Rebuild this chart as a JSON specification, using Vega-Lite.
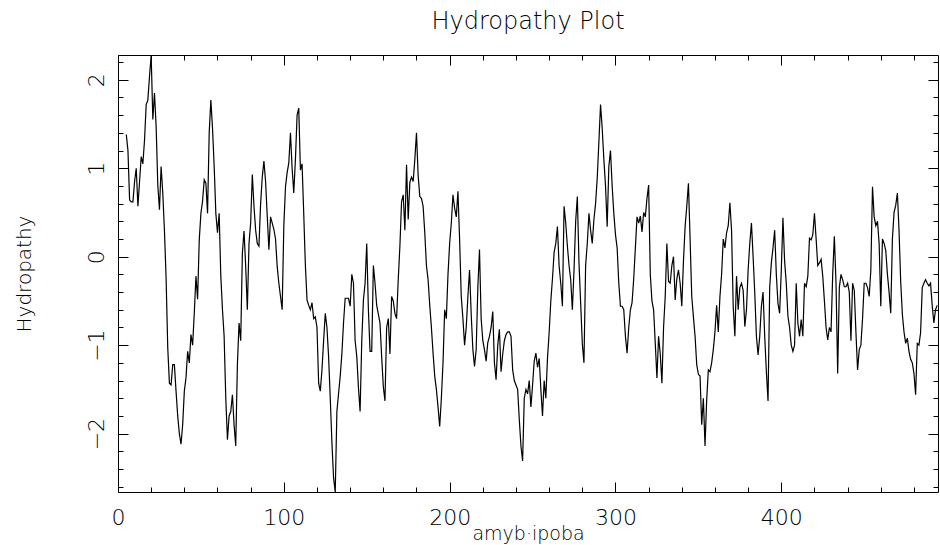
{
 "$schema": "https://vega.github.io/schema/vega-lite/v6.json",
 "width": 820, "height": 437,
 "autosize": {"type": "none"},
 "padding": {"left": 118, "top": 55, "right": 2, "bottom": 53},
 "background": "white",
 "title": {"text": "Hydropathy Plot", "font": "DejaVu Sans", "fontSize": 24, "fontWeight": 200, "color": "black", "offset": 21},
 "config": {"view": {"stroke": null}, "axis": {"domainColor": "black", "tickColor": "black", "labelColor": "black", "titleColor": "black", "labelFont": "DejaVu Sans", "titleFont": "DejaVu Sans", "labelFontWeight": 200, "titleFontWeight": 200, "grid": false, "domainWidth": 1, "tickWidth": 1}},
 "data": {"values": [
{"r":5,"h":1.38},{"r":6,"h":1.2},{"r":7,"h":0.64},{"r":8,"h":0.62},{"r":9,"h":0.62},{"r":10,"h":0.85},{"r":11,"h":1.0},{"r":12,"h":0.57},{"r":13,"h":0.85},{"r":14,"h":1.13},{"r":15,"h":1.05},{"r":16,"h":1.32},{"r":17,"h":1.72},{"r":18,"h":1.77},{"r":19,"h":2.04},{"r":20,"h":2.28},{"r":21,"h":1.55},{"r":22,"h":1.85},{"r":23,"h":1.47},{"r":24,"h":0.81},{"r":25,"h":0.53},{"r":26,"h":1.02},{"r":27,"h":0.72},{"r":28,"h":0.3},{"r":29,"h":-0.24},{"r":30,"h":-1.03},{"r":31,"h":-1.43},{"r":32,"h":-1.45},{"r":33,"h":-1.22},{"r":34,"h":-1.22},{"r":35,"h":-1.52},{"r":36,"h":-1.8},{"r":37,"h":-2.0},{"r":38,"h":-2.12},{"r":39,"h":-1.9},{"r":40,"h":-1.52},{"r":41,"h":-1.37},{"r":42,"h":-1.07},{"r":43,"h":-1.2},{"r":44,"h":-0.88},{"r":45,"h":-1.0},{"r":46,"h":-0.64},{"r":47,"h":-0.22},{"r":48,"h":-0.48},{"r":49,"h":0.19},{"r":50,"h":0.49},{"r":51,"h":0.63},{"r":52,"h":0.87},{"r":53,"h":0.83},{"r":54,"h":0.49},{"r":55,"h":1.4},{"r":56,"h":1.77},{"r":57,"h":1.45},{"r":58,"h":1.02},{"r":59,"h":0.49},{"r":60,"h":0.27},{"r":61,"h":0.49},{"r":62,"h":-0.22},
{"r":63,"h":-0.6},{"r":64,"h":-0.9},{"r":65,"h":-1.6},{"r":66,"h":-2.07},{"r":67,"h":-1.8},{"r":68,"h":-1.75},{"r":69,"h":-1.56},{"r":70,"h":-1.9},{"r":71,"h":-2.14},{"r":72,"h":-1.22},{"r":73,"h":-0.75},{"r":74,"h":-0.95},{"r":75,"h":0.04},{"r":76,"h":0.29},{"r":77,"h":-0.11},{"r":78,"h":-0.6},{"r":79,"h":0.15},{"r":80,"h":0.38},{"r":81,"h":0.93},{"r":82,"h":0.57},{"r":83,"h":0.3},{"r":84,"h":0.15},{"r":85,"h":0.12},{"r":86,"h":0.6},{"r":87,"h":0.9},{"r":88,"h":1.08},{"r":89,"h":0.85},{"r":90,"h":0.46},{"r":91,"h":0.08},{"r":92,"h":0.45},{"r":93,"h":0.38},{"r":94,"h":0.31},{"r":95,"h":0.2},{"r":96,"h":-0.11},{"r":97,"h":-0.3},{"r":98,"h":-0.45},{"r":99,"h":-0.6},{"r":100,"h":0.35},{"r":101,"h":0.79},{"r":102,"h":0.95},{"r":103,"h":1.06},{"r":104,"h":1.4},{"r":105,"h":1.0},{"r":106,"h":0.72},{"r":107,"h":1.1},{"r":108,"h":1.6},{"r":109,"h":1.68},{"r":110,"h":0.98},{"r":111,"h":1.05},{"r":112,"h":0.49},{"r":113,"h":-0.1},{"r":114,"h":-0.49},{"r":115,"h":-0.55},{"r":116,"h":-0.6},{"r":117,"h":-0.52},{"r":118,"h":-0.7},{"r":119,"h":-0.68},{"r":120,"h":-0.8},{"r":121,"h":-1.43},{"r":122,"h":-1.52},{"r":123,"h":-1.28},{"r":124,"h":-0.95},
{"r":125,"h":-0.64},{"r":126,"h":-0.8},{"r":127,"h":-1.13},{"r":128,"h":-1.6},{"r":129,"h":-2.1},{"r":130,"h":-2.5},{"r":131,"h":-2.66},{"r":132,"h":-1.75},{"r":133,"h":-1.55},{"r":134,"h":-1.35},{"r":135,"h":-1.1},{"r":136,"h":-0.75},{"r":137,"h":-0.47},{"r":138,"h":-0.47},{"r":139,"h":-0.47},{"r":140,"h":-0.56},{"r":141,"h":-0.2},{"r":142,"h":-0.3},{"r":143,"h":-0.95},{"r":144,"h":-1.13},{"r":145,"h":-1.48},{"r":146,"h":-1.75},{"r":147,"h":-0.95},{"r":148,"h":-0.49},{"r":149,"h":-0.3},{"r":150,"h":0.15},{"r":151,"h":-0.6},{"r":152,"h":-1.07},{"r":153,"h":-1.07},{"r":154,"h":-0.1},{"r":155,"h":-0.3},{"r":156,"h":-0.55},{"r":157,"h":-0.65},{"r":158,"h":-0.75},{"r":159,"h":-1.13},{"r":160,"h":-1.47},{"r":161,"h":-1.63},{"r":162,"h":-0.8},{"r":163,"h":-0.7},{"r":164,"h":-1.1},{"r":165,"h":-0.45},{"r":166,"h":-0.5},{"r":167,"h":-0.64},{"r":168,"h":-0.7},{"r":169,"h":-0.26},{"r":170,"h":0.12},{"r":171,"h":0.62},{"r":172,"h":0.7},{"r":173,"h":0.3},{"r":174,"h":1.04},{"r":175,"h":0.42},{"r":176,"h":0.84},{"r":177,"h":0.9},{"r":178,"h":0.85},{"r":179,"h":1.1},{"r":180,"h":1.4},{"r":181,"h":0.92},{"r":182,"h":0.68},{"r":183,"h":0.66},{"r":184,"h":0.57},{"r":185,"h":0.27},{"r":186,"h":-0.1},{"r":187,"h":-0.26},
{"r":188,"h":-0.55},{"r":189,"h":-0.8},{"r":190,"h":-1.09},{"r":191,"h":-1.35},{"r":192,"h":-1.5},{"r":193,"h":-1.7},{"r":194,"h":-1.92},{"r":195,"h":-1.6},{"r":196,"h":-1.2},{"r":197,"h":-0.6},{"r":198,"h":-0.7},{"r":199,"h":-0.2},{"r":200,"h":0.15},{"r":201,"h":0.38},{"r":202,"h":0.7},{"r":203,"h":0.55},{"r":204,"h":0.45},{"r":205,"h":0.74},{"r":206,"h":0.2},{"r":207,"h":-0.45},{"r":208,"h":-0.7},{"r":209,"h":-1.0},{"r":210,"h":-0.8},{"r":211,"h":-0.45},{"r":212,"h":-0.15},{"r":213,"h":-0.65},{"r":214,"h":-1.05},{"r":215,"h":-1.24},{"r":216,"h":-1.05},{"r":217,"h":-0.35},{"r":218,"h":0.08},{"r":219,"h":-0.7},{"r":220,"h":-0.95},{"r":221,"h":-1.05},{"r":222,"h":-1.18},{"r":223,"h":-0.97},{"r":224,"h":-0.9},{"r":225,"h":-0.8},{"r":226,"h":-0.62},{"r":227,"h":-1.2},{"r":228,"h":-1.39},{"r":229,"h":-1.0},{"r":230,"h":-0.82},{"r":231,"h":-1.3},{"r":232,"h":-1.1},{"r":233,"h":-0.95},{"r":234,"h":-0.88},{"r":235,"h":-0.85},{"r":236,"h":-0.85},{"r":237,"h":-0.9},{"r":238,"h":-1.28},{"r":239,"h":-1.4},{"r":240,"h":-1.45},{"r":241,"h":-1.5},{"r":242,"h":-1.84},{"r":243,"h":-2.14},{"r":244,"h":-2.31},{"r":245,"h":-1.6},{"r":246,"h":-1.5},{"r":247,"h":-1.55},{"r":248,"h":-1.4},{"r":249,"h":-1.7},{"r":250,"h":-1.45},{"r":251,"h":-1.18},
{"r":252,"h":-1.09},{"r":253,"h":-1.25},{"r":254,"h":-1.15},{"r":255,"h":-1.5},{"r":256,"h":-1.8},{"r":257,"h":-1.4},{"r":258,"h":-1.6},{"r":259,"h":-1.15},{"r":260,"h":-0.86},{"r":261,"h":-0.5},{"r":262,"h":-0.25},{"r":263,"h":0.05},{"r":264,"h":0.15},{"r":265,"h":0.34},{"r":266,"h":-0.1},{"r":267,"h":-0.3},{"r":268,"h":-0.56},{"r":269,"h":0.57},{"r":270,"h":0.38},{"r":271,"h":0.12},{"r":272,"h":-0.1},{"r":273,"h":-0.26},{"r":274,"h":-0.6},{"r":275,"h":-0.15},{"r":276,"h":0.4},{"r":277,"h":0.68},{"r":278,"h":-0.07},{"r":279,"h":-0.52},{"r":280,"h":-0.98},{"r":281,"h":-1.2},{"r":282,"h":-0.1},{"r":283,"h":0.15},{"r":284,"h":0.49},{"r":285,"h":0.3},{"r":286,"h":0.15},{"r":287,"h":0.42},{"r":288,"h":0.6},{"r":289,"h":0.89},{"r":290,"h":1.3},{"r":291,"h":1.72},{"r":292,"h":1.45},{"r":293,"h":1.1},{"r":294,"h":0.8},{"r":295,"h":0.34},{"r":296,"h":1.02},{"r":297,"h":1.2},{"r":298,"h":0.8},{"r":299,"h":0.49},{"r":300,"h":0.25},{"r":301,"h":0.1},{"r":302,"h":-0.3},{"r":303,"h":-0.56},{"r":304,"h":-0.56},{"r":305,"h":-0.6},{"r":306,"h":-0.9},{"r":307,"h":-1.09},{"r":308,"h":-0.8},{"r":309,"h":-0.6},{"r":310,"h":-0.52},{"r":311,"h":-0.25},{"r":312,"h":0.1},{"r":313,"h":0.45},{"r":314,"h":0.38},
{"r":315,"h":0.46},{"r":316,"h":0.28},{"r":317,"h":0.5},{"r":318,"h":0.45},{"r":319,"h":0.66},{"r":320,"h":0.81},{"r":321,"h":-0.2},{"r":322,"h":-0.5},{"r":323,"h":-0.6},{"r":324,"h":-0.98},{"r":325,"h":-1.37},{"r":326,"h":-0.9},{"r":327,"h":-1.1},{"r":328,"h":-1.43},{"r":329,"h":-0.8},{"r":330,"h":-0.45},{"r":331,"h":0.15},{"r":332,"h":-0.28},{"r":333,"h":-0.3},{"r":334,"h":-0.1},{"r":335,"h":0.0},{"r":336,"h":-0.49},{"r":337,"h":-0.25},{"r":338,"h":-0.15},{"r":339,"h":-0.3},{"r":340,"h":-0.56},{"r":341,"h":-0.05},{"r":342,"h":0.34},{"r":343,"h":0.57},{"r":344,"h":0.83},{"r":345,"h":0.2},{"r":346,"h":-0.45},{"r":347,"h":-0.68},{"r":348,"h":-0.9},{"r":349,"h":-1.22},{"r":350,"h":-1.33},{"r":351,"h":-1.35},{"r":352,"h":-1.9},{"r":353,"h":-1.6},{"r":354,"h":-2.14},{"r":355,"h":-1.62},{"r":356,"h":-1.28},{"r":357,"h":-1.3},{"r":358,"h":-1.2},{"r":359,"h":-1.05},{"r":360,"h":-0.85},{"r":361,"h":-0.55},{"r":362,"h":-0.85},{"r":363,"h":-0.45},{"r":364,"h":-0.2},{"r":365,"h":0.2},{"r":366,"h":0.1},{"r":367,"h":0.27},{"r":368,"h":0.35},{"r":369,"h":0.61},{"r":370,"h":0.3},{"r":371,"h":-0.56},{"r":372,"h":-0.9},{"r":373,"h":-0.22},{"r":374,"h":-0.6},{"r":375,"h":-0.35},{"r":376,"h":-0.3},{"r":377,"h":-0.38},
{"r":378,"h":-0.79},{"r":379,"h":-0.6},{"r":380,"h":-0.15},{"r":381,"h":0.15},{"r":382,"h":0.38},{"r":383,"h":0.0},{"r":384,"h":-0.41},{"r":385,"h":-0.9},{"r":386,"h":-1.11},{"r":387,"h":-0.9},{"r":388,"h":-0.56},{"r":389,"h":-0.4},{"r":390,"h":-0.9},{"r":391,"h":-1.3},{"r":392,"h":-1.63},{"r":393,"h":-0.35},{"r":394,"h":-0.07},{"r":395,"h":0.1},{"r":396,"h":0.3},{"r":397,"h":-0.2},{"r":398,"h":-0.53},{"r":399,"h":-0.64},{"r":400,"h":-0.15},{"r":401,"h":0.44},{"r":402,"h":-0.05},{"r":403,"h":-0.3},{"r":404,"h":-0.67},{"r":405,"h":-0.8},{"r":406,"h":-1.0},{"r":407,"h":-1.07},{"r":408,"h":-1.0},{"r":409,"h":-0.3},{"r":410,"h":-0.75},{"r":411,"h":-0.9},{"r":412,"h":-0.71},{"r":413,"h":-0.9},{"r":414,"h":-0.3},{"r":415,"h":-0.34},{"r":416,"h":-0.22},{"r":417,"h":0.21},{"r":418,"h":0.19},{"r":419,"h":0.25},{"r":420,"h":0.49},{"r":421,"h":0.2},{"r":422,"h":-0.1},{"r":423,"h":-0.07},{"r":424,"h":-0.03},{"r":425,"h":-0.22},{"r":426,"h":-0.5},{"r":427,"h":-0.8},{"r":428,"h":-0.94},{"r":429,"h":-0.8},{"r":430,"h":-0.85},{"r":431,"h":-0.2},{"r":432,"h":0.23},{"r":433,"h":-0.3},{"r":434,"h":-1.32},{"r":435,"h":-0.35},{"r":436,"h":-0.2},{"r":437,"h":-0.26},{"r":438,"h":-0.34},{"r":439,"h":-0.34},{"r":440,"h":-0.3},
{"r":441,"h":-0.4},{"r":442,"h":-0.95},{"r":443,"h":-0.3},{"r":444,"h":-0.38},{"r":445,"h":-0.85},{"r":446,"h":-1.28},{"r":447,"h":-1.05},{"r":448,"h":-1.0},{"r":449,"h":-0.7},{"r":450,"h":-0.3},{"r":451,"h":-0.3},{"r":452,"h":-0.35},{"r":453,"h":-0.45},{"r":454,"h":-0.15},{"r":455,"h":0.79},{"r":456,"h":0.45},{"r":457,"h":0.35},{"r":458,"h":0.4},{"r":459,"h":0.15},{"r":460,"h":-0.56},{"r":461,"h":0.2},{"r":462,"h":0.15},{"r":463,"h":0.07},{"r":464,"h":-0.2},{"r":465,"h":-0.4},{"r":466,"h":-0.64},{"r":467,"h":0.2},{"r":468,"h":0.5},{"r":469,"h":0.58},{"r":470,"h":0.72},{"r":471,"h":0.3},{"r":472,"h":-0.28},{"r":473,"h":-0.65},{"r":474,"h":-0.85},{"r":475,"h":-0.98},{"r":476,"h":-0.92},{"r":477,"h":-1.07},{"r":478,"h":-1.16},{"r":479,"h":-1.2},{"r":480,"h":-1.32},{"r":481,"h":-1.56},{"r":482,"h":-0.98},{"r":483,"h":-1.0},{"r":484,"h":-0.86},{"r":485,"h":-0.35},{"r":486,"h":-0.3},{"r":487,"h":-0.26},{"r":488,"h":-0.3},{"r":489,"h":-0.33},{"r":490,"h":-0.3},{"r":491,"h":-0.55},{"r":492,"h":-0.75},{"r":493,"h":-0.6},{"r":494,"h":-0.55}
 ]},
 "layer": [
  {"mark": {"type": "line", "color": "black", "strokeWidth": 1.2, "clip": true},
   "encoding": {
    "x": {"field": "r", "type": "quantitative",
          "scale": {"domain": [0, 494.5], "nice": false, "zero": false},
          "axis": {"orient": "bottom", "title": "amyb·ipoba", "values": [0,20,40,60,80,100,120,140,160,180,200,220,240,260,280,300,320,340,360,380,400,420,440,460,480],
                   "labelExpr": "datum.value % 100 === 0 ? datum.label : ''",
                   "tickSize": {"condition": {"test": "datum.value % 100 === 0", "value": -10}, "value": -5},
                   "labelFontSize": 22, "labelPadding": 25, "labelFlush": false, "labelOverlap": false,
                   "titleFontSize": 19, "titlePadding": -9}},
    "y": {"field": "h", "type": "quantitative",
          "scale": {"domain": [-2.66, 2.28], "nice": false, "zero": false},
          "axis": {"orient": "left", "title": "Hydropathy", "values": [-2.6,-2.4,-2.2,-2,-1.8,-1.6,-1.4,-1.2,-1,-0.8,-0.6,-0.4,-0.2,0,0.2,0.4,0.6,0.8,1,1.2,1.4,1.6,1.8,2,2.2],
                   "labelExpr": "abs(datum.value - round(datum.value)) < 0.001 ? format(round(datum.value), 'd') : ''",
                   "tickSize": {"condition": {"test": "abs(datum.value - round(datum.value)) < 0.001", "value": -10}, "value": -5},
                   "labelAngle": -90, "labelFontSize": 22, "labelPadding": 20, "labelFlush": false, "labelOverlap": false,
                   "titleFontSize": 20, "titlePadding": 46}}
   }},
  {"mark": {"type": "line", "strokeOpacity": 0},
   "encoding": {
    "x": {"field": "r", "type": "quantitative",
          "axis": {"orient": "top", "title": null, "labels": false, "values": [0,20,40,60,80,100,120,140,160,180,200,220,240,260,280,300,320,340,360,380,400,420,440,460,480],
                   "tickSize": {"condition": {"test": "datum.value % 100 === 0", "value": -10}, "value": -5}}},
    "y": {"field": "h", "type": "quantitative",
          "axis": {"orient": "right", "title": null, "labels": false, "values": [-2.6,-2.4,-2.2,-2,-1.8,-1.6,-1.4,-1.2,-1,-0.8,-0.6,-0.4,-0.2,0,0.2,0.4,0.6,0.8,1,1.2,1.4,1.6,1.8,2,2.2],
                   "tickSize": {"condition": {"test": "abs(datum.value - round(datum.value)) < 0.001", "value": -10}, "value": -5}}}
   }}
 ],
 "resolve": {"axis": {"x": "independent", "y": "independent"}}
}
